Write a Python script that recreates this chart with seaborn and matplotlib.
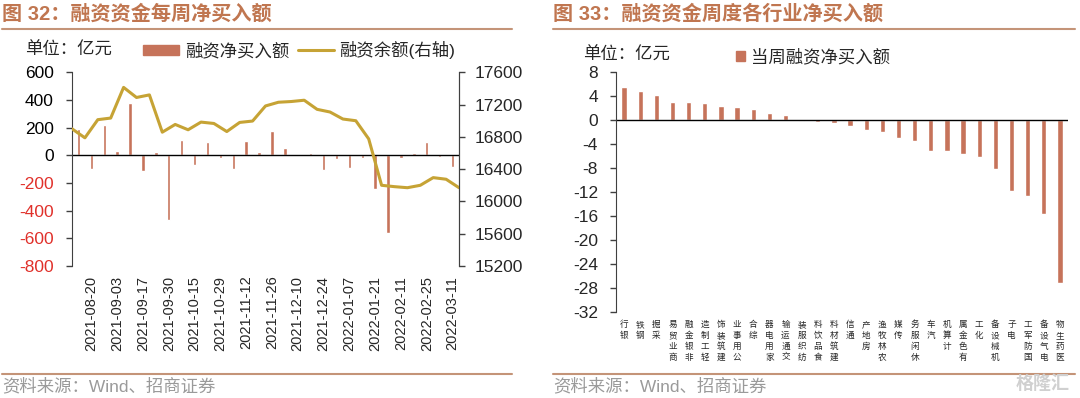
import matplotlib
matplotlib.use("Agg")
import matplotlib.pyplot as plt
from matplotlib.lines import Line2D
from matplotlib.patches import Patch
import numpy as np
import seaborn as sns

# weekly margin financing net buy (亿元) and balance (右轴)
weeks = ['2021-08-13', '2021-08-20', '2021-08-27', '2021-09-03', '2021-09-10',
         '2021-09-17', '2021-09-24', '2021-09-30', '2021-10-08', '2021-10-15',
         '2021-10-22', '2021-10-29', '2021-11-05', '2021-11-12', '2021-11-19',
         '2021-11-26', '2021-12-03', '2021-12-10', '2021-12-17', '2021-12-24',
         '2021-12-31', '2022-01-07', '2022-01-14', '2022-01-21', '2022-01-28',
         '2022-02-11', '2022-02-18', '2022-02-25', '2022-03-04', '2022-03-11']
net_buy = [189, -99, 218, 31, 375, -116, 24, -467, 109, -68,
           94, -17, -97, 106, 24, 174, 51, 3, 19, -109,
           -29, -92, -17, -244, -561, -22, 17, 94, -12, -85]
# balance at week boundaries (one more point than weeks)
balance = [16900, 16788, 17013, 17033, 17413, 17288, 17320, 16858, 16954, 16888,
           16983, 16966, 16866, 16979, 16996, 17183, 17229, 17238, 17254, 17141,
           17108, 17021, 17000, 16775, 16200, 16183, 16170, 16200, 16295, 16275,
           16170]

# industry net buy this week (亿元)
industries = ['银行', '钢铁', '采掘', '商业贸易', '非银金融', '轻工制造', '建筑装饰',
              '公用事业', '综合', '家用电器', '交通运输', '纺织服装', '食品饮料',
              '建筑材料', '通信', '房地产', '农林牧渔', '传媒', '休闲服务', '汽车',
              '计算机', '有色金属', '化工', '机械设备', '电子', '国防军工',
              '电气设备', '医药生物']
industry_buy = [5.5, 4.95, 4.2, 3.1, 3.05, 2.8, 2.4, 2.2, 1.8, 1.2, 0.8, -0.1,
                -0.35, -0.5, -0.9, -1.7, -2.0, -2.9, -3.4, -5.1, -5.2, -5.7,
                -6.1, -8.2, -11.8, -12.7, -15.7, -27.1]

BAR = '#C6735A'
LINE = '#C6A335'
TITLE = '#C07650'
RULE = '#C49478'

sns.set_style('white')
plt.rcParams['font.family'] = ['Liberation Sans', 'Noto Sans CJK SC']
plt.rcParams['axes.unicode_minus'] = False

W, H = 1080, 398
fig = plt.figure(figsize=(W / 100, H / 100), dpi=100)


def box(x0, y0, x1, y1):
    return [x0 / W, 1 - y1 / H, (x1 - x0) / W, (y1 - y0) / H]


def header(x0, x1, text):
    fig.text(x0 / W, 1 - 14 / H, text, color=TITLE, fontsize=14.5,
             fontweight='bold', va='center', ha='left')
    fig.add_artist(Line2D([x0 / W, x1 / W], [1 - 29 / H] * 2, color=RULE, lw=1.5))
    fig.add_artist(Line2D([x0 / W, x1 / W], [1 - 374 / H] * 2, color=RULE, lw=1.5))
    fig.text(x0 / W, 1 - 386 / H, '资料来源：Wind、招商证券', color='#9A9A9A',
             fontsize=12.5, va='center', ha='left')


# ---------------- left chart ----------------
header(2, 512, '图 32：融资资金每周净买入额')
ax = fig.add_axes(box(72, 72.3, 459, 266))
sns.barplot(x=weeks, y=net_buy, color=BAR, saturation=1, width=0.27, ax=ax)
ax.set_xlim(-0.5, len(weeks) - 0.5)
ax.set_ylim(-800, 600)
yt = list(range(-800, 601, 200))
ax.set_yticks(yt)
ax.set_yticklabels([str(v) for v in yt])
for lab, v in zip(ax.get_yticklabels(), yt):
    lab.set_color('#E0302A' if v < 0 else 'black')
ax.set_xticks(range(1, len(weeks), 2))
ax.set_xticklabels(weeks[1::2], rotation=90, fontsize=10.5)
ax.set_xlabel('')
ax.set_ylabel('')
ax.axhline(0, color='black', lw=1)
ax.tick_params(axis='y', direction='out', length=4, width=1, pad=9,
               labelsize=12.5, color='#404040', left=True)
ax.tick_params(axis='x', length=0, pad=7)
for s in ['top', 'bottom']:
    ax.spines[s].set_visible(False)
for s in ['left', 'right']:
    ax.spines[s].set_color('#404040')

ax2 = ax.twinx()
ax2.plot(np.arange(len(balance)) - 0.5, balance, color=LINE, lw=2.2)
ax2.set_ylim(15200, 17600)
ax2.set_yticks(range(15200, 17601, 400))
ax2.tick_params(axis='y', direction='out', length=4, width=1, pad=7,
                labelsize=12.5, color='#404040', right=True)
for s in ['top', 'bottom', 'left']:
    ax2.spines[s].set_visible(False)
ax2.spines['right'].set_color('#404040')
ax2.grid(False)

fig.text(25 / W, 1 - 50 / H, '单位：亿元', fontsize=12.5, va='center', ha='left')
fig.legend(handles=[Patch(color=BAR, label='融资净买入额'),
                    Line2D([], [], color=LINE, lw=2.2, label='融资余额(右轴)')],
           loc='center left', bbox_to_anchor=(143 / W, 1 - 50 / H), ncol=2,
           frameon=False, fontsize=12.5, borderpad=0, borderaxespad=0,
           handlelength=2.1, handleheight=0.5, handletextpad=0.3,
           columnspacing=0.5)

# ---------------- right chart ----------------
header(553, 1075, '图 33：融资资金周度各行业净买入额')
bx = fig.add_axes(box(616, 72.3, 1068, 312))
sns.barplot(x=industries, y=industry_buy, color=BAR, saturation=1, width=0.33, ax=bx)
bx.set_xlim(-0.5, len(industries) - 0.5)
bx.set_ylim(-32, 8)
bx.set_yticks(range(-32, 9, 4))
bx.set_xticks(range(len(industries)))
bx.set_xticklabels(['\n'.join(reversed(n)) for n in industries],
                   fontsize=6.2, linespacing=1.25, va='top')
bx.set_xlabel('')
bx.set_ylabel('')
bx.axhline(0, color='black', lw=1)
bx.tick_params(axis='y', direction='out', length=4, width=1, pad=9,
               labelsize=12.5, color='#404040', left=True)
bx.tick_params(axis='x', length=0, pad=6)
for s in ['top', 'bottom', 'right']:
    bx.spines[s].set_visible(False)
bx.spines['left'].set_color('#404040')

fig.text(583 / W, 1 - 55 / H, '单位：亿元', fontsize=12.5, va='center', ha='left')
fig.legend(handles=[Patch(color=BAR, label='当周融资净买入额')],
           loc='center left', bbox_to_anchor=(736 / W, 1 - 57 / H),
           frameon=False, fontsize=12.5, borderpad=0, borderaxespad=0,
           handlelength=0.5, handleheight=0.5, handletextpad=0.35)

fig.text(1070 / W, 1 - 384 / H, '格隆汇', color='#D0D0D0', fontsize=13,
         fontweight='bold', va='center', ha='right')

fig.savefig('out.png', dpi=100)
